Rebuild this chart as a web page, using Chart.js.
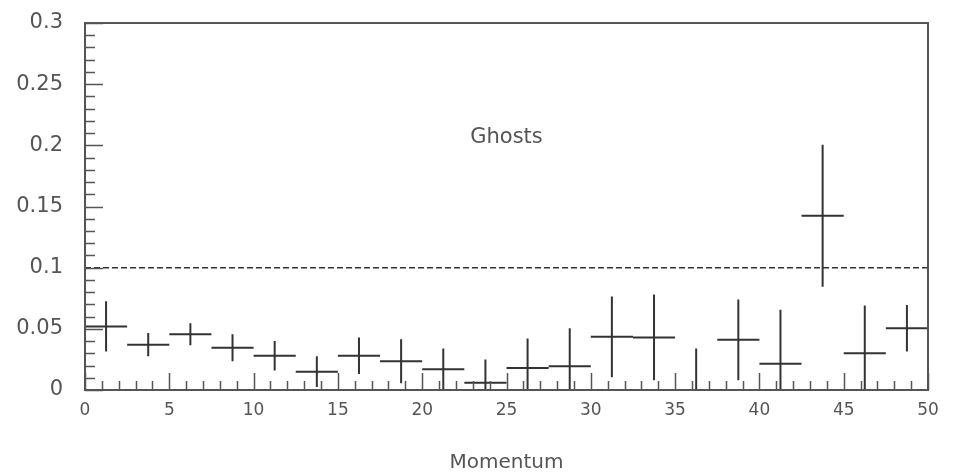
<!DOCTYPE html>
<html>
<head>
<meta charset="utf-8">
<script src="https://cdn.jsdelivr.net/npm/chart.js@4/dist/chart.umd.min.js"></script>
<style>
  html, body { margin: 0; padding: 0; background: #fff; }
  #wrap { width: 959px; height: 475px; position: relative; }
</style>
</head>
<body>
<div id="wrap"><canvas id="ghost-chart"></canvas></div>
<script>
// bin centres (momentum), bin half width, ghost rate and its error
const binCenters   = [1.25, 3.75, 6.25, 8.75, 11.25, 13.75, 16.25, 18.75, 21.25, 23.75,
                      26.25, 28.75, 31.25, 33.75, 36.25, 38.75, 41.25, 43.75, 46.25, 48.75];
const binHalfWidth = 1.25;
const ghostRate    = [0.052, 0.037, 0.0455, 0.0345, 0.028, 0.015, 0.028, 0.0235, 0.017, 0.006,
                      0.018, 0.0195, 0.0435, 0.043, 0, 0.041, 0.0215, 0.1425, 0.030, 0.0505];
const ghostErr     = [0.0205, 0.0095, 0.009, 0.011, 0.012, 0.0125, 0.015, 0.018, 0.017, 0.019,
                      0.024, 0.031, 0.033, 0.035, 0.034, 0.033, 0.044, 0.058, 0.039, 0.019];
const cutLevel     = 0.1;
const xRange       = [0, 50];
const yRange       = [0, 0.3];
const plotLabel    = 'Ghosts';
const xTitle       = 'Momentum';

const INK   = '#333';
const FRAME = '#555';
const TEXT  = '#555';

// horizontal and vertical pieces of each error cross, split by null gaps
const hBars = [], vBars = [];
binCenters.forEach((c, i) => {
  hBars.push({ x: c - binHalfWidth, y: ghostRate[i] }, { x: c + binHalfWidth, y: ghostRate[i] }, { x: c, y: null });
  vBars.push({ x: c, y: ghostRate[i] - ghostErr[i] }, { x: c, y: ghostRate[i] + ghostErr[i] }, { x: c, y: null });
});

const frameTicks = {
  id: 'frameTicks',
  afterDatasetsDraw(chart) {
    const { ctx, chartArea: a, scales: { x, y } } = chart;
    ctx.save();
    ctx.strokeStyle = FRAME;
    ctx.lineWidth = 1.5;
    ctx.beginPath();
    // x ticks every 1, long every 5, pointing inwards
    for (let v = xRange[0]; v <= xRange[1]; v += 1) {
      const px = Math.round(x.getPixelForValue(v)) + 0.5;
      const len = v % 5 === 0 ? 17 : 9;
      ctx.moveTo(px, a.bottom);
      ctx.lineTo(px, a.bottom - len);
    }
    // y ticks every 0.01, long every 0.05
    for (let k = 0; k <= 30; k++) {
      const py = Math.round(y.getPixelForValue(k / 100)) + 0.5;
      const len = k % 5 === 0 ? 18 : 10;
      ctx.moveTo(a.left, py);
      ctx.lineTo(a.left + len, py);
    }
    ctx.stroke();
    ctx.lineWidth = 2;
    ctx.strokeRect(a.left, a.top, a.right - a.left, a.bottom - a.top);

    ctx.fillStyle = TEXT;
    ctx.font = '21px "DejaVu Sans"';
    ctx.textAlign = 'center';
    ctx.textBaseline = 'middle';
    ctx.fillText(plotLabel, x.getPixelForValue(25), y.getPixelForValue(0.206));
    ctx.restore();
  }
};

new Chart(document.getElementById('ghost-chart'), {
  type: 'scatter',
  data: {
    datasets: [
      { data: [{ x: xRange[0], y: cutLevel }, { x: xRange[1], y: cutLevel }],
        borderColor: INK, borderWidth: 1.5, borderDash: [6, 3] },
      { data: hBars, borderColor: INK, borderWidth: 2 },
      { data: vBars, borderColor: INK, borderWidth: 2 },
    ],
  },
  options: {
    responsive: true,
    maintainAspectRatio: false,
    animation: false,
    showLine: true,
    spanGaps: false,
    elements: { point: { radius: 0, hoverRadius: 0 }, line: { tension: 0 } },
    layout: { padding: { top: 23, right: 31, left: 0, bottom: 0 } },
    plugins: { legend: { display: false }, tooltip: { enabled: false } },
    scales: {
      x: {
        type: 'linear',
        min: xRange[0],
        max: xRange[1],
        grid: { display: false, drawTicks: false },
        border: { display: false },
        ticks: { stepSize: 5, padding: 10, color: TEXT, font: { family: 'DejaVu Sans', size: 17 } },
        title: { display: true, text: xTitle, color: TEXT, font: { family: 'DejaVu Sans', size: 20 }, padding: { top: 0, bottom: 0 } },
        afterFit: s => { s.height = 85; s.paddingLeft = 0; s.paddingRight = 0; },
      },
      y: {
        min: yRange[0],
        max: yRange[1],
        grid: { display: false, drawTicks: false },
        border: { display: false },
        ticks: {
          stepSize: 0.05,
          padding: 22,
          color: TEXT,
          font: { family: 'DejaVu Sans', size: 21 },
          callback: v => String(parseFloat(v.toFixed(2))),
        },
        afterFit: s => { s.width = 85; s.paddingTop = 0; s.paddingBottom = 0; },
      },
    },
  },
  plugins: [frameTicks],
});
</script>
</body>
</html>
